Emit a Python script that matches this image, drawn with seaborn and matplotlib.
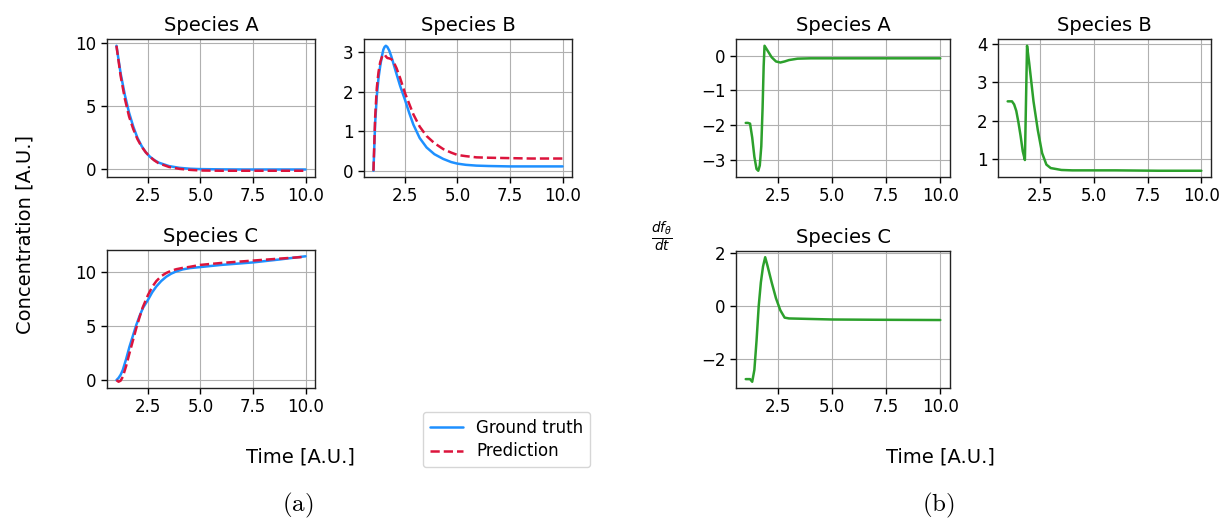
import matplotlib
matplotlib.use("Agg")
import matplotlib.pyplot as plt
import seaborn as sns
import numpy as np
import pandas as pd

# ---------------- data ----------------
species = ["Species A", "Species B", "Species C"]

t_A = [1.0, 1.2, 1.4, 1.6, 1.8, 2.0, 2.2, 2.4, 2.6, 2.8, 3.0, 3.5, 4.0, 4.5, 5.0, 6.0, 7.0, 8.0, 9.0, 10.0]
gt_A = [9.8, 7.6, 5.9, 4.5, 3.4, 2.5, 1.85, 1.35, 1.0, 0.75, 0.55, 0.27, 0.13, 0.06, 0.03, 0.01, 0.0, 0.0, 0.0, 0.0]
pred_A = [9.8, 7.4, 5.6, 4.2, 3.2, 2.4, 1.8, 1.35, 1.0, 0.72, 0.5, 0.2, 0.05, -0.03, -0.08, -0.1, -0.1, -0.1, -0.1, -0.1]

t_B = [1.0, 1.08, 1.16, 1.24, 1.32, 1.4, 1.47, 1.53, 1.59, 1.66, 1.75, 1.85, 1.95, 2.1, 2.27, 2.5, 2.7, 2.9, 3.2, 3.53, 3.9, 4.32, 4.7, 5.0, 5.4, 5.9, 6.5, 7.5, 8.5, 10.0]
gt_B = [0.0, 1.2, 1.9, 2.35, 2.65, 2.9, 3.07, 3.14, 3.17, 3.14, 3.05, 2.9, 2.72, 2.45, 2.15, 1.8, 1.47, 1.17, 0.83, 0.59, 0.42, 0.3, 0.22, 0.18, 0.15, 0.13, 0.12, 0.11, 0.11, 0.11]
pred_B = [0.0, 1.35, 2.1, 2.5, 2.75, 2.88, 2.94, 2.95, 2.9, 2.86, 2.85, 2.83, 2.77, 2.6, 2.35, 1.97, 1.7, 1.43, 1.12, 0.88, 0.7, 0.55, 0.46, 0.4, 0.37, 0.34, 0.33, 0.32, 0.31, 0.31]

t_C = [1.0, 1.1, 1.2, 1.3, 1.46, 1.62, 1.78, 1.94, 2.1, 2.26, 2.5, 2.7, 2.9, 3.13, 3.37, 3.6, 3.85, 4.15, 4.49, 5.0, 6.0, 7.5, 8.75, 10.0]
gt_C = [0.0, 0.2, 0.5, 0.93, 1.95, 3.1, 4.1, 5.1, 5.95, 6.7, 7.45, 8.15, 8.7, 9.2, 9.6, 9.88, 10.1, 10.28, 10.4, 10.5, 10.7, 10.93, 11.2, 11.5]
pred_C = [0.0, -0.15, -0.05, 0.3, 1.3, 2.5, 3.65, 4.8, 5.85, 6.8, 7.9, 8.65, 9.2, 9.65, 9.95, 10.15, 10.3, 10.42, 10.52, 10.7, 10.88, 11.1, 11.28, 11.45]

td_A = [1.0, 1.1, 1.2, 1.3, 1.4, 1.5, 1.58, 1.65, 1.72, 1.78, 1.83, 1.87, 2.0, 2.2, 2.4, 2.6, 2.8, 3.0, 3.4, 4.0, 6.0, 8.0, 10.0]
d_A = [-1.93, -1.93, -1.95, -2.35, -2.9, -3.25, -3.3, -3.15, -2.6, -1.5, -0.3, 0.28, 0.15, -0.05, -0.17, -0.2, -0.17, -0.13, -0.09, -0.08, -0.08, -0.08, -0.08]

td_B = [1.0, 1.2, 1.3, 1.4, 1.5, 1.6, 1.7, 1.8, 1.9, 2.0, 2.2, 2.4, 2.6, 2.8, 3.0, 3.5, 4.0, 6.0, 8.0, 10.0]
d_B = [2.5, 2.5, 2.42, 2.25, 1.95, 1.6, 1.2, 0.97, 3.95, 3.5, 2.5, 1.75, 1.15, 0.85, 0.76, 0.71, 0.70, 0.70, 0.69, 0.69]

td_C = [1.0, 1.2, 1.3, 1.4, 1.5, 1.6, 1.7, 1.8, 1.9, 2.0, 2.2, 2.4, 2.6, 2.8, 3.0, 4.0, 5.0, 7.0, 10.0]
d_C = [-2.75, -2.75, -2.85, -2.4, -1.3, 0.0, 0.9, 1.5, 1.85, 1.55, 0.9, 0.3, -0.15, -0.43, -0.46, -0.48, -0.5, -0.51, -0.52]

# ---------------- style ----------------
sns.set_theme(style="ticks", rc={
    "axes.grid": True,
    "grid.color": "#b0b0b0",
    "grid.linewidth": 0.8,
    "axes.edgecolor": "#222222",
    "axes.linewidth": 1.0,
    "xtick.color": "black",
    "ytick.color": "black",
    "text.color": "black",
    "axes.labelcolor": "black",
    "xtick.labelsize": 12,
    "ytick.labelsize": 12,
    "axes.titlesize": 14,
    "mathtext.fontset": "dejavusans",
})
plt.rcParams["font.family"] = ["DejaVu Sans"]

GT_COLOR = "#1E90FF"
PRED_COLOR = "#DC143C"
DER_COLOR = "#2ca02c"

W, H = 1224, 518
fig = plt.figure(figsize=(W / 100, H / 100), dpi=100)


def box(x0, y0, x1, y1):
    return [x0 / W, 1 - y1 / H, (x1 - x0) / W, (y1 - y0) / H]


ax_aA = fig.add_axes(box(107, 39.5, 315, 177))
ax_aB = fig.add_axes(box(364, 39.5, 572, 177))
ax_aC = fig.add_axes(box(107, 250, 315, 388))
ax_bA = fig.add_axes(box(736, 39.5, 950, 177))
ax_bB = fig.add_axes(box(998, 39.5, 1211, 177))
ax_bC = fig.add_axes(box(736, 251, 950, 388))

conc = [(ax_aA, t_A, gt_A, pred_A), (ax_aB, t_B, gt_B, pred_B), (ax_aC, t_C, gt_C, pred_C)]
for (ax, t, gt, pr), name in zip(conc, species):
    sns.lineplot(x=t, y=gt, ax=ax, color=GT_COLOR, linewidth=1.8, label="Ground truth")
    sns.lineplot(x=t, y=pr, ax=ax, color=PRED_COLOR, linewidth=1.8, linestyle="--", label="Prediction")
    ax.set_title(name)
    ax.get_legend().remove()
    ax.set_xlabel("")
    ax.set_ylabel("")

ders = [(ax_bA, td_A, d_A), (ax_bB, td_B, d_B), (ax_bC, td_C, d_C)]
for (ax, t, d), name in zip(ders, species):
    sns.lineplot(x=t, y=d, ax=ax, color=DER_COLOR, linewidth=1.8)
    ax.set_title(name)
    ax.set_xlabel("")
    ax.set_ylabel("")

for ax in [ax_aA, ax_aB, ax_aC, ax_bA, ax_bB, ax_bC]:
    ax.set_xticks([2.5, 5.0, 7.5, 10.0])
    ax.set_xticklabels(["2.5", "5.0", "7.5", "10.0"])
    ax.tick_params(length=4, width=1)
    for s in ax.spines.values():
        s.set_visible(True)

ax_aA.set_yticks([0, 5, 10])
ax_aB.set_yticks([0, 1, 2, 3])
ax_aC.set_yticks([0, 5, 10])
ax_bA.set_yticks([-3, -2, -1, 0])
ax_bB.set_yticks([1, 2, 3, 4])
ax_bC.set_yticks([-2, 0, 2])

handles, labels = ax_aA.get_legend_handles_labels()
fig.legend(handles, labels, loc="upper left", bbox_to_anchor=(423 / W, 1 - 412 / H),
           borderaxespad=0, fontsize=12, frameon=True, handlelength=2.0,
           labelspacing=0.35, borderpad=0.4)

fig.text(25 / W, 1 - 235 / H, "Concentration [A.U.]", rotation=90, ha="center", va="center", fontsize=14)
fig.text(300 / W, 1 - 457 / H, "Time [A.U.]", ha="center", va="center", fontsize=14)
fig.text(940 / W, 1 - 457 / H, "Time [A.U.]", ha="center", va="center", fontsize=14)
fig.text(662 / W, 1 - 237 / H, r"$\frac{df_\theta}{dt}$", ha="center", va="center", fontsize=14)
fig.text(298 / W, 1 - 505 / H, r"$\mathrm{(a)}$", ha="center", va="center", fontsize=18, math_fontfamily="cm")
fig.text(938 / W, 1 - 505 / H, r"$\mathrm{(b)}$", ha="center", va="center", fontsize=18, math_fontfamily="cm")

fig.savefig("out.png", dpi=100)
